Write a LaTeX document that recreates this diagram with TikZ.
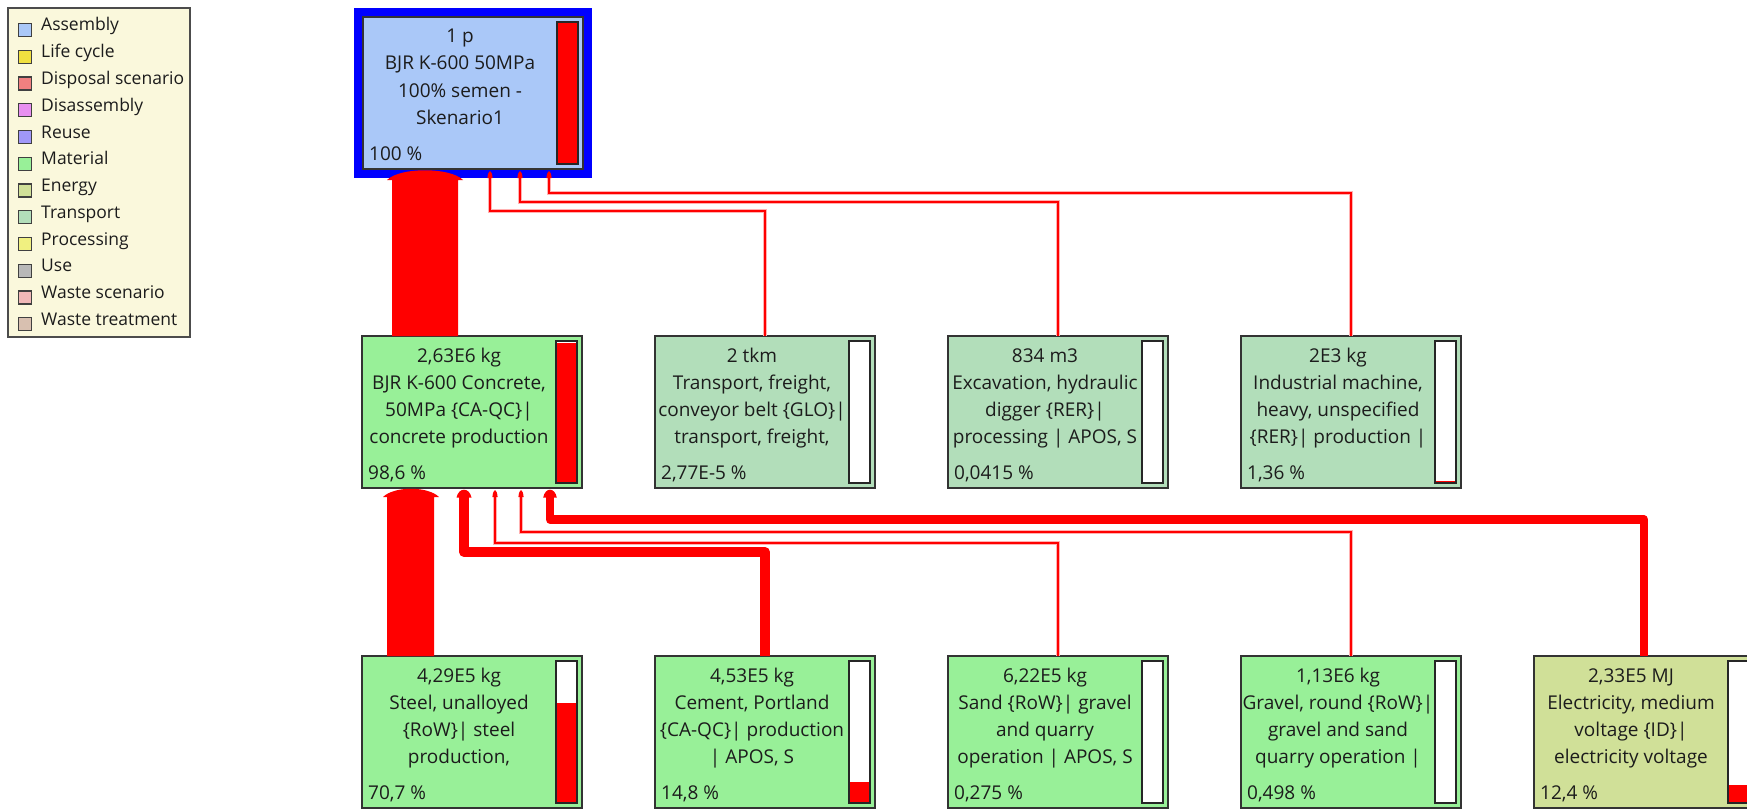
\documentclass[tikz,border=0pt]{standalone}
\usepackage{fontspec}
\setmainfont{Open Sans}
\usetikzlibrary{calc}

% category colours
\definecolor{cAssembly}{RGB}{170,200,248}
\definecolor{cLifecycle}{RGB}{240,224,64}
\definecolor{cDisposal}{RGB}{240,128,128}
\definecolor{cDisassembly}{RGB}{232,144,240}
\definecolor{cReuse}{RGB}{160,152,248}
\definecolor{cMaterial}{RGB}{152,240,152}
\definecolor{cEnergy}{RGB}{208,224,152}
\definecolor{cTransport}{RGB}{178,222,186}
\definecolor{cProcessing}{RGB}{240,240,128}
\definecolor{cUse}{RGB}{184,184,184}
\definecolor{cWastescen}{RGB}{240,184,184}
\definecolor{cWastetreat}{RGB}{216,192,176}
\definecolor{legbg}{RGB}{250,248,220}
\definecolor{framblue}{RGB}{0,0,255}
\definecolor{flowred}{RGB}{255,0,0}
\definecolor{inktext}{RGB}{28,28,28}

\newcommand\boxfont{\fontsize{19}{27}\selectfont}
\newcommand\legfont{\fontsize{17.5}{26}\selectfont}

\tikzset{
  pbox/.style={draw=black!80, line width=1.4pt, minimum width=220pt, minimum height=152pt,
    inner sep=0pt, outer sep=0pt, anchor=north west},
  ptxt/.style={anchor=base, inner sep=0pt, font=\boxfont, text=inktext},
  ppct/.style={anchor=base west, inner sep=0pt, font=\boxfont, text=inktext},
  barframe/.style={draw=black!85, line width=1.3pt},
  halo/.style={draw=flowred!30, line width=3.4pt},
  thinflow/.style={draw=flowred, line width=1.5pt},
  thickflow/.style={draw=flowred, line join=round},
  legsq/.style={draw=black!75, line width=1.1pt, minimum width=13pt, minimum height=13pt,
    inner sep=0pt, outer sep=0pt},
  legtxt/.style={anchor=base west, inner sep=0pt, font=\legfont, text=inktext},
}

% process box: name, x, y, fill
\newcommand\procbox[4]{\node[pbox, fill=#4] (#1) at (#2,#3) {};}
% four centred lines and the share in the lower left corner
\newcommand\proctext[6]{%
  \node[ptxt] (#1-a) at ($(#1.north west)+(97,26)$) {#2};
  \node[ptxt] (#1-b) at ($(#1.north west)+(97,53)$) {#3};
  \node[ptxt] (#1-c) at ($(#1.north west)+(97,80)$) {#4};
  \node[ptxt] (#1-d) at ($(#1.north west)+(97,107)$) {#5};
  \node[ppct] (#1-p) at ($(#1.north west)+(6,143)$) {#6};}
% share bar at the right side, filled from the bottom
\newcommand\procbar[2]{%
  \fill[white] ($(#1.north east)+(-26,5)$) rectangle ($(#1.south east)+(-5,-5)$);
  \fill[flowred] ($(#1.south east)+(-26,-5)$) rectangle ($(#1.south east)+(-5,{-5-142*#2})$);
  \draw[barframe] ($(#1.north east)+(-26,5)$) rectangle ($(#1.south east)+(-5,-5)$);}
% rounded arrow head: base centre, half width, height
\newcommand\tiphead[3]{%
  \fill[flowred] ($#1+(-#2,0)$) .. controls ($#1+({-0.7*#2},{-1.3*#3})$)
    and ($#1+({0.7*#2},{-1.3*#3})$) .. ($#1+(#2,0)$) -- cycle;}

\begin{document}
\begin{tikzpicture}[x=1pt,y=-1pt]
\useasboundingbox (0,0) rectangle (1747,808);
\clip (0,0) rectangle (1747,808);
\fill[white] (0,0) rectangle (1747,808);

% ---------- legend ----------
\node[draw=black!70, fill=legbg, line width=1.1pt, minimum width=182pt, minimum height=329pt,
  anchor=north west, inner sep=0pt, outer sep=0pt] (legend) at (8,8) {};
\foreach \c/\t [count=\i from 0] in {cAssembly/Assembly, cLifecycle/Life cycle,
    cDisposal/Disposal scenario, cDisassembly/Disassembly, cReuse/Reuse,
    cMaterial/Material, cEnergy/Energy, cTransport/Transport, cProcessing/Processing,
    cUse/Use, cWastescen/Waste scenario, cWastetreat/Waste treatment} {
  \node[legsq, fill=\c] (legsq-\i) at (25,{30+26.75*\i}) {};
  \node[legtxt] (legtxt-\i) at (41,{31+26.75*\i}) {\t};
}

% ---------- boxes ----------
\node[fill=framblue, minimum width=238pt, minimum height=170pt, anchor=north west,
  inner sep=0pt, outer sep=0pt] (tnframe) at (354,8) {};
\procbox{tn}{363}{17}{cAssembly}
\procbox{conc}{362}{336}{cMaterial}
\procbox{trn}{655}{336}{cTransport}
\procbox{exc}{948}{336}{cTransport}
\procbox{ind}{1241}{336}{cTransport}
\procbox{steel}{362}{656}{cMaterial}
\procbox{cem}{655}{656}{cMaterial}
\procbox{sand}{948}{656}{cMaterial}
\procbox{grav}{1241}{656}{cMaterial}
\procbox{elec}{1534}{656}{cEnergy}

\proctext{tn}{1 p}{BJR K-600 50MPa}{100\% semen -}{Skenario1}{100 \%}
\proctext{conc}{2,63E6 kg}{BJR K-600 Concrete,}{50MPa \{CA-QC\}|}{concrete production}{98,6 \%}
\proctext{trn}{2 tkm}{Transport, freight,}{conveyor belt \{GLO\}|}{transport, freight,}{2,77E-5 \%}
\proctext{exc}{834 m3}{Excavation, hydraulic}{digger \{RER\}|}{processing | APOS, S}{0,0415 \%}
\proctext{ind}{2E3 kg}{Industrial machine,}{heavy, unspecified}{\{RER\}| production |}{1,36 \%}
\proctext{steel}{4,29E5 kg}{Steel, unalloyed}{\{RoW\}| steel}{production,}{70,7 \%}
\proctext{cem}{4,53E5 kg}{Cement, Portland}{\{CA-QC\}| production}{| APOS, S}{14,8 \%}
\proctext{sand}{6,22E5 kg}{Sand \{RoW\}| gravel}{and quarry}{operation | APOS, S}{0,275 \%}
\proctext{grav}{1,13E6 kg}{Gravel, round \{RoW\}|}{gravel and sand}{quarry operation |}{0,498 \%}
\proctext{elec}{2,33E5 MJ}{Electricity, medium}{voltage \{ID\}|}{electricity voltage}{12,4 \%}

\procbar{tn}{1}
\procbar{conc}{0.986}
\procbar{trn}{0}
\procbar{exc}{0}
\procbar{ind}{0.0136}
\procbar{steel}{0.707}
\procbar{cem}{0.148}
\procbar{sand}{0.00275}
\procbar{grav}{0.00498}
\procbar{elec}{0.124}

% ---------- flows into the assembly ----------
\fill[flowred] ($(conc.north west)+(30,0)$) -- ($(tn.south west)+(29,11)$)
  -- ($(tn.south west)+(24,11)$) .. controls ($(tn.south west)+(37,-2)$)
  and ($(tn.south west)+(87,-2)$) .. ($(tn.south west)+(100,11)$)
  -- ($(tn.south west)+(95,11)$) -- ($(conc.north west)+(96,0)$) -- cycle;

\foreach \src/\dx/\dy in {trn/127/42, exc/157/33, ind/186/24} {
  \draw[halo] (\src.north) |- ($(tn.south west)+(\dx,\dy)$) -- ($(tn.south west)+(\dx,9)$);
  \draw[thinflow] (\src.north) |- ($(tn.south west)+(\dx,\dy)$) -- ($(tn.south west)+(\dx,9)$);
  \tiphead{(tn.south west)+(\dx,9)}{2.6}{7}
}

% ---------- flows into the concrete ----------
\fill[flowred] ($(steel.north west)+(25,0)$) -- ($(conc.south west)+(25,9)$)
  -- ($(conc.south west)+(21,9)$) .. controls ($(conc.south west)+(32,-2)$)
  and ($(conc.south west)+(66,-2)$) .. ($(conc.south west)+(77,9)$)
  -- ($(conc.south west)+(72,9)$) -- ($(steel.north west)+(72,0)$) -- cycle;

\draw[thickflow, line width=9.8pt] (cem.north) |- ($(conc.south west)+(102,64)$)
  -- ($(conc.south west)+(102,9)$);
\tiphead{(conc.south west)+(102,9.5)}{7.5}{8}

\draw[thickflow, line width=8.2pt] (elec.north) |- ($(conc.south west)+(188,31.5)$)
  -- ($(conc.south west)+(188,9)$);
\tiphead{(conc.south west)+(188,9.5)}{6.8}{8}

\foreach \src/\dx/\dy in {sand/133/55, grav/159/44} {
  \draw[halo] (\src.north) |- ($(conc.south west)+(\dx,\dy)$) -- ($(conc.south west)+(\dx,9)$);
  \draw[thinflow] (\src.north) |- ($(conc.south west)+(\dx,\dy)$) -- ($(conc.south west)+(\dx,9)$);
  \tiphead{(conc.south west)+(\dx,9)}{2.6}{7}
}
\end{tikzpicture}
\end{document}
